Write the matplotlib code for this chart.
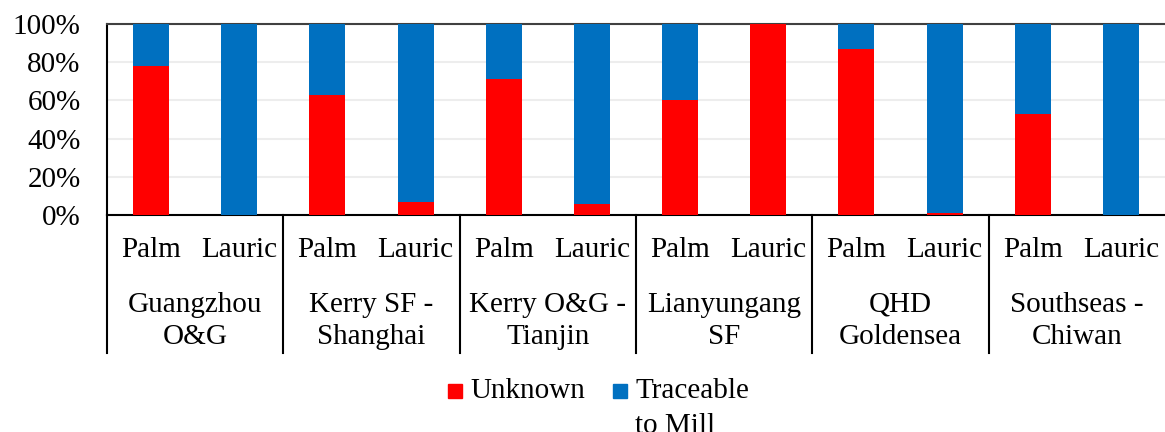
import matplotlib
matplotlib.use("Agg")
import matplotlib.pyplot as plt
from matplotlib.lines import Line2D
from matplotlib.patches import Rectangle
import matplotlib.transforms as mtrans
import numpy as np

# Data (share of volume, %)
mills = ["Guangzhou\nO&G", "Kerry SF -\nShanghai", "Kerry O&G -\nTianjin",
         "Lianyungang\nSF", "QHD\nGoldensea", "Southseas -\nChiwan"]
oils = ["Palm", "Lauric"]
unknown = [78, 0, 63, 7, 71, 6, 60, 100, 87, 1, 53, 0]
traceable = [100 - u for u in unknown]

RED = "#FF0000"
BLUE = "#0070C0"
W, H = 1165, 432

plt.rcParams["font.family"] = ["Liberation Serif", "DejaVu Serif"]
plt.rcParams["font.size"] = 21

fig = plt.figure(figsize=(W / 100, H / 100), dpi=100)
ax = fig.add_axes([107 / W, 1 - 215 / H, 1 - 107 / W, 191 / H])

x = np.arange(len(unknown))
ax.bar(x, unknown, width=0.41, color=RED, zorder=3)
ax.bar(x, traceable, width=0.41, bottom=unknown, color=BLUE, zorder=3)

ax.set_xlim(-0.5, len(unknown) - 0.5)
ax.set_ylim(0, 100)
ax.set_yticks(range(0, 101, 20))
ax.set_yticklabels([f"{v}%" for v in range(0, 101, 20)])
ax.tick_params(axis="y", length=0, pad=19)
ax.tick_params(axis="x", length=0, labelbottom=False)
ax.yaxis.grid(True, color="#EDEDED", linewidth=1.5, zorder=0)

ax.spines["right"].set_visible(False)
ax.spines["top"].set_color("#404040")
for s in ["top", "bottom", "left"]:
    ax.spines[s].set_linewidth(1.5)

# multi-level category axis
trans = mtrans.blended_transform_factory(ax.transData, fig.transFigure)
for i in x:
    ax.text(i, 1 - 250 / H, oils[i % 2], transform=trans,
            ha="center", va="center")
for g, name in enumerate(mills):
    ax.text(2 * g + 0.5, 1 - 321 / H, name, transform=trans,
            ha="center", va="center", linespacing=1.3)
for g in range(len(mills)):
    ax.add_line(Line2D([2 * g - 0.5, 2 * g - 0.5],
                       [1 - 215 / H, 1 - 353 / H],
                       transform=trans, color="black", linewidth=1.5,
                       clip_on=False))

# legend drawn by hand so the swatches sit on the first text line
fig.add_artist(Rectangle((448 / W, 1 - 398 / H), 14 / W, 14 / H,
                         color=RED, transform=fig.transFigure))
fig.text(470 / W, 1 - 391 / H, "Unknown", ha="left", va="center")
fig.add_artist(Rectangle((613 / W, 1 - 398 / H), 14 / W, 14 / H,
                         color=BLUE, transform=fig.transFigure))
fig.text(635 / W, 1 - 391 / H, "Traceable", ha="left", va="center")
fig.text(635 / W, 1 - 426 / H, "to Mill", ha="left", va="center")

fig.savefig("out.png", dpi=100)
